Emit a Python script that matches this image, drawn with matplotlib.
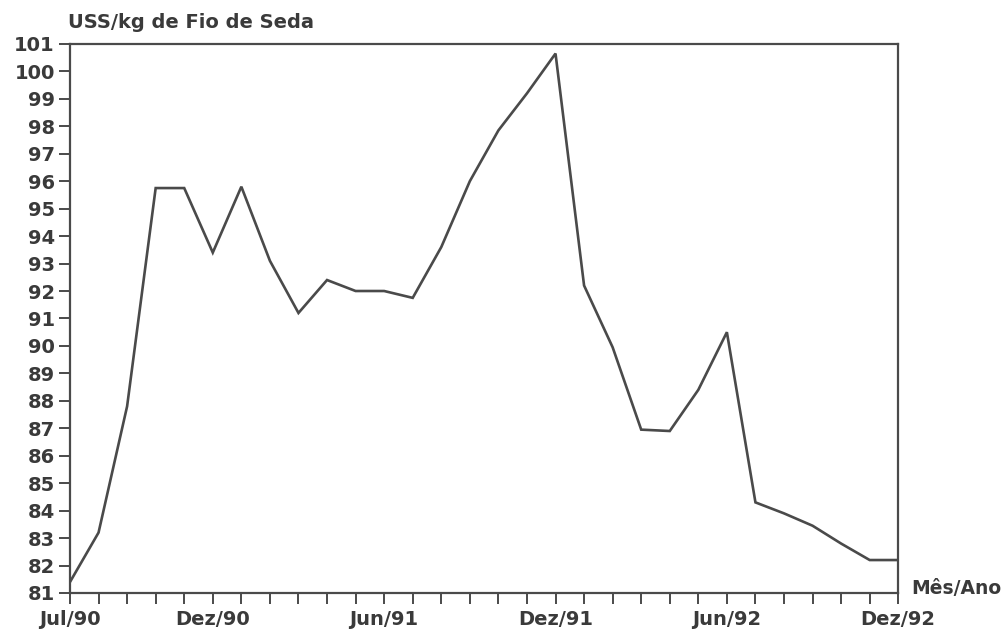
import matplotlib
matplotlib.use("Agg")
import matplotlib.pyplot as plt

months = ["Jul/90", "Ago/90", "Set/90", "Out/90", "Nov/90", "Dez/90",
          "Jan/91", "Fev/91", "Mar/91", "Abr/91", "Mai/91", "Jun/91",
          "Jul/91", "Ago/91", "Set/91", "Out/91", "Nov/91", "Dez/91",
          "Jan/92", "Fev/92", "Mar/92", "Abr/92", "Mai/92", "Jun/92",
          "Jul/92", "Ago/92", "Set/92", "Out/92", "Nov/92", "Dez/92"]
prices = [81.4, 83.2, 87.8, 95.75, 95.75, 93.4,
          95.8, 93.1, 91.2, 92.4, 92.0, 92.0,
          91.75, 93.6, 96.0, 97.85, 99.2, 100.65,
          92.2, 89.95, 86.95, 86.9, 88.4, 90.5,
          84.3, 83.9, 83.45, 82.8, 82.2, 82.2]
xtick_labels = ["Jul/90", "Dez/90", "Jun/91", "Dez/91", "Jun/92", "Dez/92"]
yticks = list(range(81, 102))

ink = "#4a4a4a"
txt = "#3a3a3a"

fig = plt.figure(figsize=(10.07, 6.34), dpi=100)
ax = fig.add_axes([0.0695, 0.0647, 0.8225, 0.866])
x = list(range(len(months)))
ax.plot(x, prices, color=ink, lw=1.9, solid_joinstyle="miter")

ax.set_xlim(0, len(months) - 1)
ax.set_ylim(81, 101)
ax.set_xticks(x)
ax.set_xticklabels([m if m in xtick_labels else "" for m in months])
ax.set_yticks(yticks)
ax.set_yticklabels([str(v) for v in yticks])

for s in ax.spines.values():
    s.set_color(ink)
    s.set_linewidth(1.6)

ax.tick_params(axis="both", direction="out", length=8, width=1.4, color=ink,
               labelcolor=txt, labelsize=14)
ax.tick_params(axis="y", pad=3)
ax.tick_params(axis="x", pad=4)
for lbl in ax.get_xticklabels() + ax.get_yticklabels():
    lbl.set_fontweight("bold")

fig.text(68 / 1007, 1 - 22 / 634, "USS/kg de Fio de Seda", fontsize=14,
         fontweight="bold", color=txt, ha="left", va="center")
fig.text(911 / 1007, 1 - 589 / 634, "Mês/Ano", fontsize=13.5,
         fontweight="bold", color=txt, ha="left", va="center")

fig.savefig("out.png", dpi=100, facecolor="white")
